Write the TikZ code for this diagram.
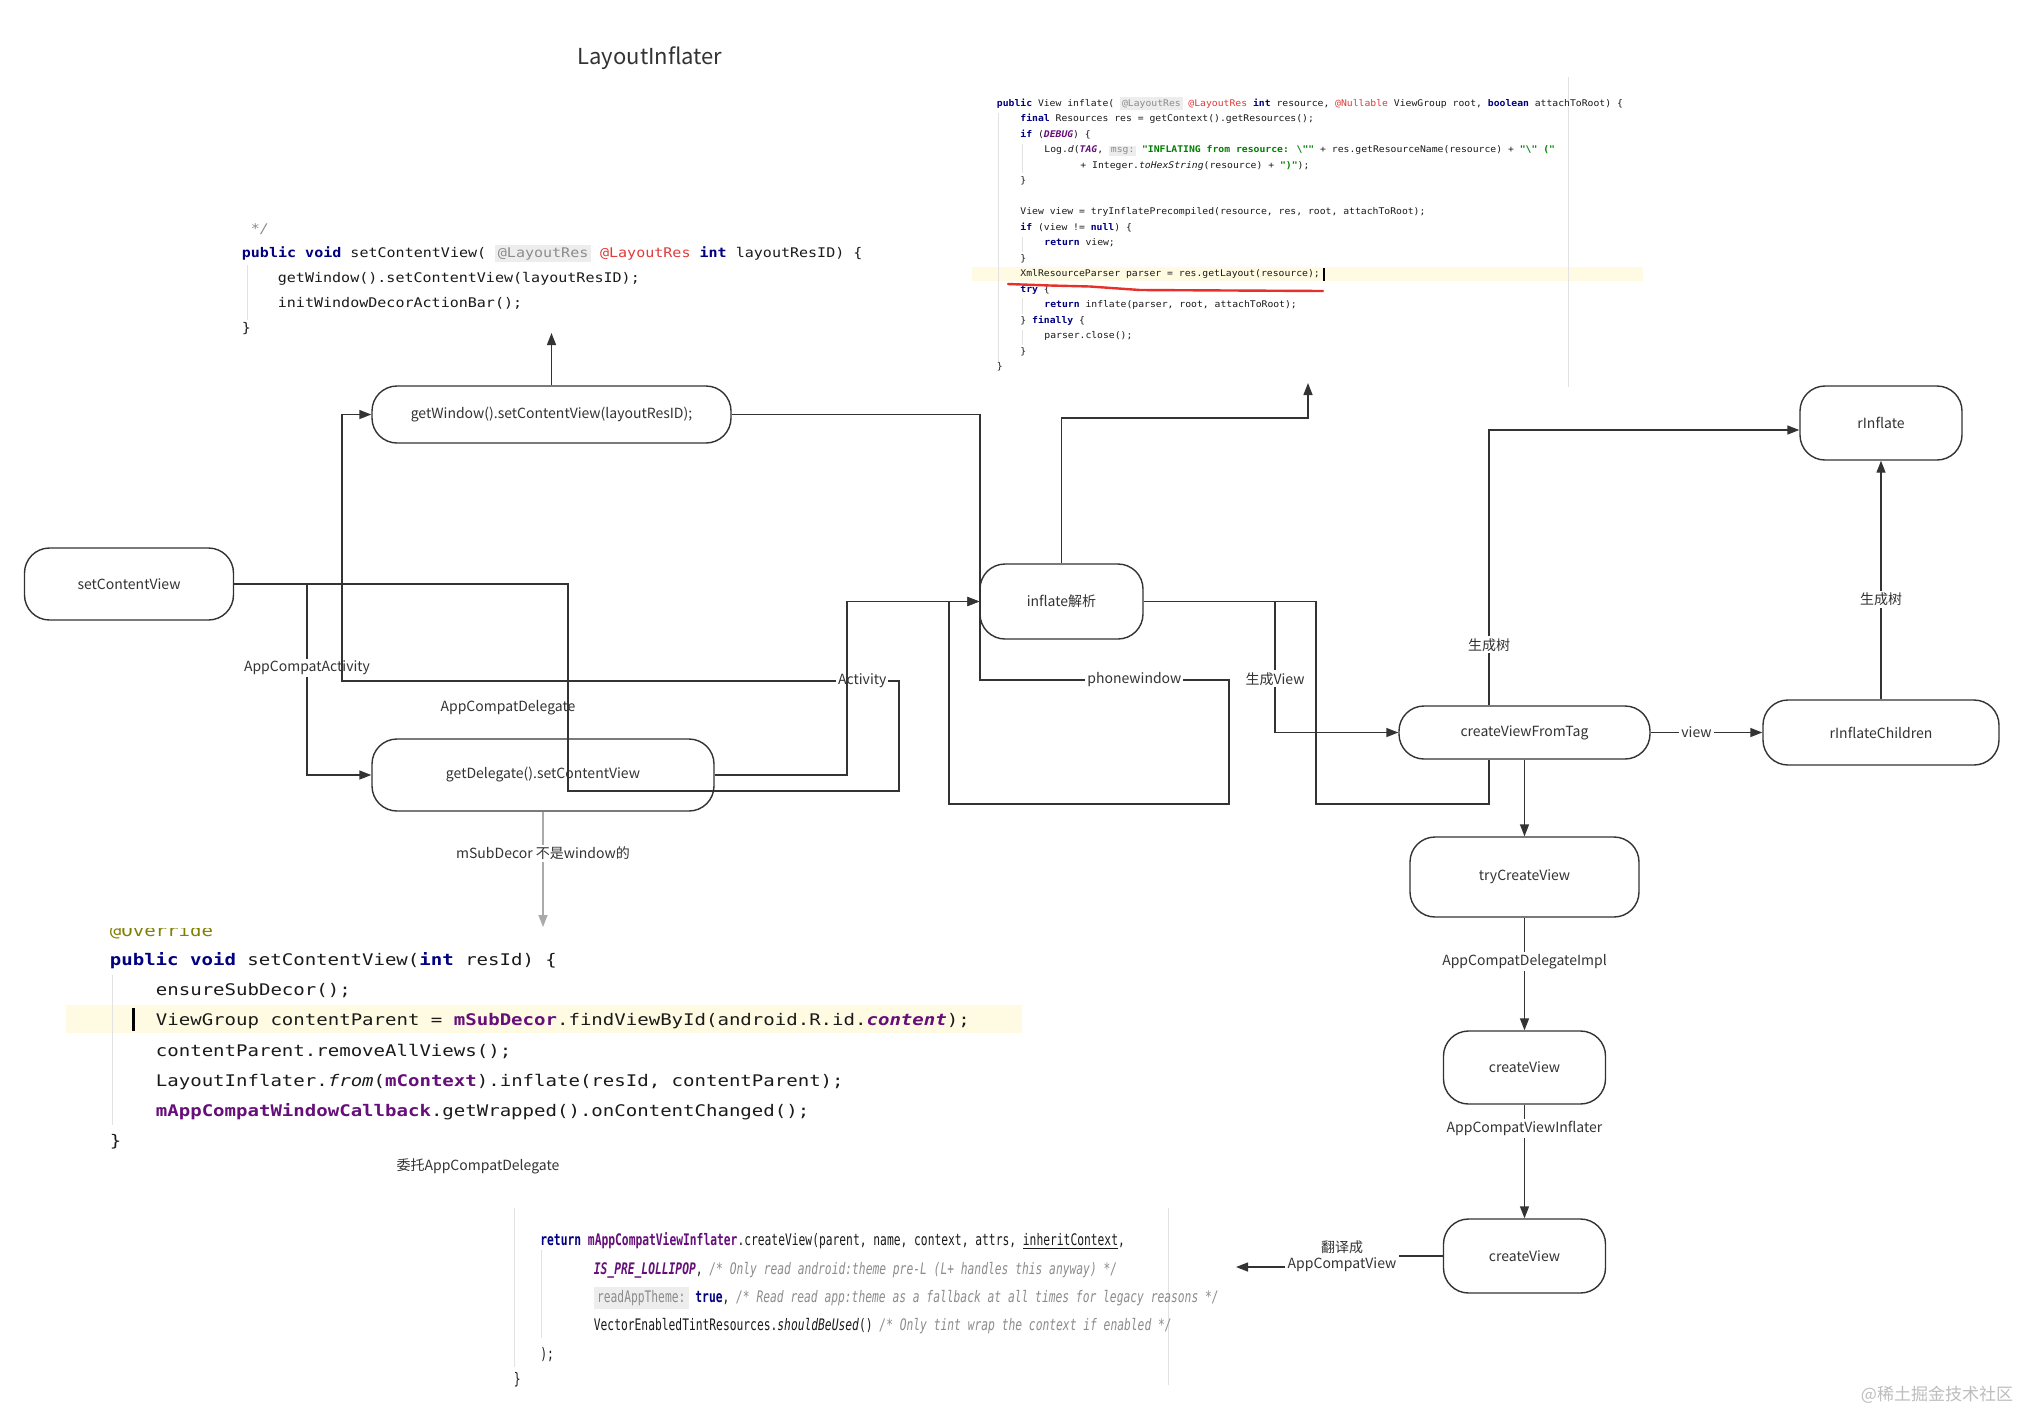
\documentclass[tikz,border=0pt]{standalone}
\usepackage{fontspec}
\usetikzlibrary{arrows.meta,calc}
\newfontfamily\labf{Noto Sans CJK SC}
\newfontfamily\codeAf[FakeStretch=1.13]{DejaVu Sans Mono}
\newfontfamily\codeBf[FakeStretch=1.06]{DejaVu Sans Mono}
\newfontfamily\codeCf[FakeStretch=1.19]{DejaVu Sans Mono}
\newfontfamily\codeDf[FakeStretch=0.71]{DejaVu Sans Mono}
\definecolor{ln}{HTML}{333333}
\definecolor{txt}{HTML}{333333}
\definecolor{garrc}{HTML}{AAAAAA}
\definecolor{kwc}{HTML}{000080}
\definecolor{fldc}{HTML}{660E7A}
\definecolor{strc}{HTML}{008000}
\definecolor{cmtc}{HTML}{8C8C8C}
\definecolor{annc}{HTML}{E03A3A}
\definecolor{ovrc}{HTML}{808000}
\definecolor{hintc}{HTML}{8C8C8C}
\definecolor{hintbg}{HTML}{EDEDED}
\definecolor{codetxt}{HTML}{1A1A1A}
\definecolor{hl}{HTML}{FFFBE3}
\definecolor{guide}{HTML}{E2E2E2}
\definecolor{wmc}{HTML}{BDBDBD}
\definecolor{redline}{HTML}{E8302A}
\newcommand\codekw[1]{{\bfseries\color{kwc}#1}}
\newcommand\codefld[1]{{\bfseries\color{fldc}#1}}
\newcommand\codesfld[1]{{\bfseries\itshape\color{fldc}#1}}
\newcommand\codestr[1]{{\bfseries\color{strc}#1}}
\newcommand\codecmt[1]{{\itshape\color{cmtc}#1}}
\newcommand\codeann[1]{{\color{annc}#1}}
\newcommand\codeovr[1]{{\color{ovrc}#1}}
\newcommand\codehint[1]{{\setlength{\fboxsep}{0.2em}\colorbox{hintbg}{\color{hintc}#1}}}
\begin{document}
\begin{tikzpicture}[x=0.5pt,y=-0.5pt,
  box/.style={draw=ln, line width=0.7pt, rounded corners=12.5pt, inner sep=0pt, font=\labf\fontsize{7}{8.5}\selectfont, text=txt},
  conn/.style={draw=ln, line width=0.7pt},
  arr/.style={conn, -{Triangle[length=6pt,width=4.5pt]}},
  garr/.style={draw=garrc, line width=0.7pt, -{Triangle[length=6pt,width=4.5pt]}},
  lab/.style={font=\labf\fontsize{7}{8}\selectfont, text=txt, fill=white, inner sep=1pt},
  free/.style={font=\labf\fontsize{7}{8}\selectfont, text=txt, inner sep=0pt},
  cl/.style={anchor=base west, inner sep=0pt, text=codetxt},
  cA/.style={cl, font=\codeAf\fontsize{6.65}{8}\selectfont},
  cB/.style={cl, font=\codeBf\fontsize{4.6}{5.5}\selectfont},
  cC/.style={cl, font=\codeCf\fontsize{8}{9.6}\selectfont},
  cD/.style={cl, font=\codeDf\fontsize{7.95}{9.5}\selectfont},
  guideline/.style={draw=guide, line width=0.5pt}
]
\useasboundingbox (0,0) rectangle (2025,1410);
\fill[white] (0,0) rectangle (2025,1410);

% ---------- highlights ----------
\fill[hl] (972,267) rectangle (1643,281);
\fill[hl] (66,1005) rectangle (1022,1033);

% ---------- title ----------
\node[free, font=\labf\fontsize{11}{13}\selectfont] (title) at (650,58) {LayoutInflater};

% ---------- code block A ----------
\draw[guideline] (247,265) -- (247,320);
\node[cA] (a0) at (250.5,233) {\codecmt{*/}};
\node[cA] (a1) at (241.5,257) {\codekw{public void} setContentView( \codehint{@LayoutRes} \codeann{@LayoutRes} \codekw{int} layoutResID) \{};
\node[cA] (a2) at (277.5,282) {getWindow().setContentView(layoutResID);};
\node[cA] (a3) at (277.5,307) {initWindowDecorActionBar();};
\node[cA] (a4) at (241.5,332) {\}};

% ---------- code block B ----------
\draw[guideline] (1568,77) -- (1568,387);
\draw[guideline] (998.5,113) -- (998.5,362);
\draw[guideline] (1022.5,144) -- (1022.5,173);
\draw[guideline] (1022.5,237) -- (1022.5,252);
\draw[guideline] (1022.5,298) -- (1022.5,314);
\draw[guideline] (1022.5,330) -- (1022.5,345);
\node[cB] (b1) at (996.5,106) {\codekw{public} View inflate( \codehint{@LayoutRes} \codeann{@LayoutRes} \codekw{int} resource, \codeann{@Nullable} ViewGroup root, \codekw{boolean} attachToRoot) \{};
\node[cB] (b2) at (1020,121.5) {\codekw{final} Resources res = getContext().getResources();};
\node[cB] (b3) at (1020,137) {\codekw{if} (\codesfld{DEBUG}) \{};
\node[cB] (b4) at (1044,152.5) {Log.\textit{d}(\codesfld{TAG}, \codehint{msg:} \codestr{"INFLATING from resource: \textbackslash""} + res.getResourceName(resource) + \codestr{"\textbackslash" ("}};
\node[cB] (b5) at (1080,168) {+ Integer.\textit{toHexString}(resource) + \codestr{")"});};
\node[cB] (b6) at (1020,183.5) {\}};
\node[cB] (b8) at (1020,214.5) {View view = tryInflatePrecompiled(resource, res, root, attachToRoot);};
\node[cB] (b9) at (1020,230) {\codekw{if} (view != \codekw{null}) \{};
\node[cB] (b10) at (1044,245.5) {\codekw{return} view;};
\node[cB] (b11) at (1020,261) {\}};
\node[cB] (b12) at (1020,276.5) {XmlResourceParser parser = res.getLayout(resource);};
\node[cB] (b13) at (1020,292) {\codekw{try} \{};
\node[cB] (b14) at (1044,307.5) {\codekw{return} inflate(parser, root, attachToRoot);};
\node[cB] (b15) at (1020,323) {\} \codekw{finally} \{};
\node[cB] (b16) at (1044,338.5) {parser.close();};
\node[cB] (b17) at (1020,354) {\}};
\node[cB] (b18) at (996.5,369.5) {\}};
\draw[line width=0.6pt] (1324,268) -- (1324,281);
\draw[redline, line width=1.2pt, line cap=round, line join=round] (1008,284) -- (1050,285.5) -- (1090,286.5) -- (1140,290) -- (1323,291);

% ---------- code block C ----------
\draw[guideline] (112,975) -- (112,1125);
\begin{scope}
  \clip (50,928) rectangle (400,950);
  \node[cC] (c0) at (109.5,936) {\codeovr{@Override}};
\end{scope}
\node[cC] (c1) at (109.5,965) {\codekw{public void} setContentView(\codekw{int} resId) \{};
\node[cC] (c2) at (155.5,995) {ensureSubDecor();};
\node[cC] (c3) at (155.5,1025) {ViewGroup contentParent = \codefld{mSubDecor}.findViewById(android.R.id.\codesfld{content});};
\node[cC] (c4) at (155.5,1056) {contentParent.removeAllViews();};
\node[cC] (c5) at (155.5,1086) {LayoutInflater.\textit{from}(\codefld{mContext}).inflate(resId, contentParent);};
\node[cC] (c6) at (155.5,1116) {\codefld{mAppCompatWindowCallback}.getWrapped().onContentChanged();};
\node[cC] (c7) at (109.5,1146) {\}};
\fill[black] (132,1008) rectangle (135,1031);
\node[free] (deleg) at (478,1166) {委托AppCompatDelegate};

% ---------- code block D ----------
\draw[guideline] (514.5,1208) -- (514.5,1367);
\draw[guideline] (1168,1208) -- (1168,1385);
\draw[guideline] (541,1250) -- (541,1338);
\node[cD] (d1) at (540,1245) {\codekw{return} \codefld{mAppCompatViewInflater}.createView(parent, name, context, attrs, \underline{inheritContext},};
\node[cD] (d2) at (593.5,1274) {\codesfld{IS\_PRE\_LOLLIPOP}, \codecmt{/* Only read android:theme pre-L (L+ handles this anyway) */}};
\node[cD] (d3) at (593.5,1302) {\codehint{readAppTheme:} \codekw{true}, \codecmt{/* Read read app:theme as a fallback at all times for legacy reasons */}};
\node[cD] (d4) at (593.5,1330) {VectorEnabledTintResources.\textit{shouldBeUsed}() \codecmt{/* Only tint wrap the context if enabled */}};
\node[cD] (d5) at (540,1359) {);};
\node[cD] (d6) at (513.5,1384) {\}};

% ---------- flow nodes ----------
\node[box, minimum width=104.5pt, minimum height=36pt] (scv) at (129,584) {setContentView};
\node[box, minimum width=179.5pt, minimum height=28.5pt] (gw) at (551.5,414.5) {getWindow().setContentView(layoutResID);};
\node[box, minimum width=171pt, minimum height=36pt] (gd) at (543,775) {getDelegate().setContentView};
\node[box, minimum width=81.5pt, minimum height=37.5pt] (inf) at (1061.5,601.5) {inflate解析};
\node[box, minimum width=125.5pt, minimum height=26.5pt] (cvft) at (1524.5,732.5) {createViewFromTag};
\node[box, minimum width=81pt, minimum height=37pt] (rinf) at (1881,423) {rInflate};
\node[box, minimum width=118pt, minimum height=32.5pt] (rinfc) at (1881,732.5) {rInflateChildren};
\node[box, minimum width=114.5pt, minimum height=40pt] (tcv) at (1524.5,877) {tryCreateView};
\node[box, minimum width=81pt, minimum height=36.5pt] (cv1) at (1524.5,1067.5) {createView};
\node[box, minimum width=81pt, minimum height=37pt] (cv2) at (1524.5,1256) {createView};

\coordinate (tipA) at (551.5,333);
\coordinate (tipB) at (1308,383);
\coordinate (tipC) at (1236,1267);
\coordinate (tipD) at (543,927);

% ---------- free labels ----------
\node[free] (acd) at (508,708) {AppCompatDelegate};

% ---------- connectors ----------
\draw[arr] (scv.east) -- (307,584) -- node[lab, pos=0.44] {AppCompatActivity} (307,775) -- (gd.west);
\draw[arr] (scv.east) -| (568,791) -- (899,791) -- (899,681) -- node[lab, pos=0.066] {Activity} (342,681) |- (gw.west);
\draw[arr] (gw.east) -| (980,680) -- node[lab, pos=0.62] {phonewindow} (1229,680) -- (1229,804) -- (949,804) |- (inf.west);
\draw[arr] (gd.east) -- (847,775) |- (inf.west);
\draw[arr] (gw.north) -- (tipA);
\draw[arr] (inf.north) |- (1308,418) -- (tipB);
\draw[conn] (inf.east) -| (1316,804) -| ($(cvft.south)+(-35.5,0)$);
\draw[arr] (inf.east) -- (1275,601.5) -- node[lab, pos=0.59] {生成View} (1275,732.5) -- (cvft.west);
\draw[arr] ($(cvft.north)+(-35.5,0)$) -- node[lab, pos=0.22] {生成树} (1489,430) -- ($(rinf.west)+(0,7)$);
\draw[arr] (cvft.east) -- node[lab, pos=0.41] {view} (rinfc.west);
\draw[arr] (rinfc.north) -- node[lab, pos=0.42] {生成树} (rinf.south);
\draw[arr] (cvft.south) -- (tcv.north);
\draw[arr] (tcv.south) -- node[lab, pos=0.39] {AppCompatDelegateImpl} (cv1.north);
\draw[arr] (cv1.south) -- node[lab, pos=0.21] {AppCompatViewInflater} (cv2.north);
\node[lab, align=center, font=\labf\fontsize{7}{8}\selectfont] (trans) at (1342,1256) {翻译成\\AppCompatView};
\draw[conn] (cv2.west) -- (cv2.west -| trans.east);
\draw[arr] (trans.west |- tipC) -- (tipC);
\draw[garr] (gd.south) -- node[lab, pos=0.36] {mSubDecor 不是window的} (tipD);

% ---------- watermark ----------
\node[free, font=\labf\fontsize{8.5}{10}\selectfont, text=wmc] (wm) at (1937,1395) {@稀土掘金技术社区};
\end{tikzpicture}
\end{document}
